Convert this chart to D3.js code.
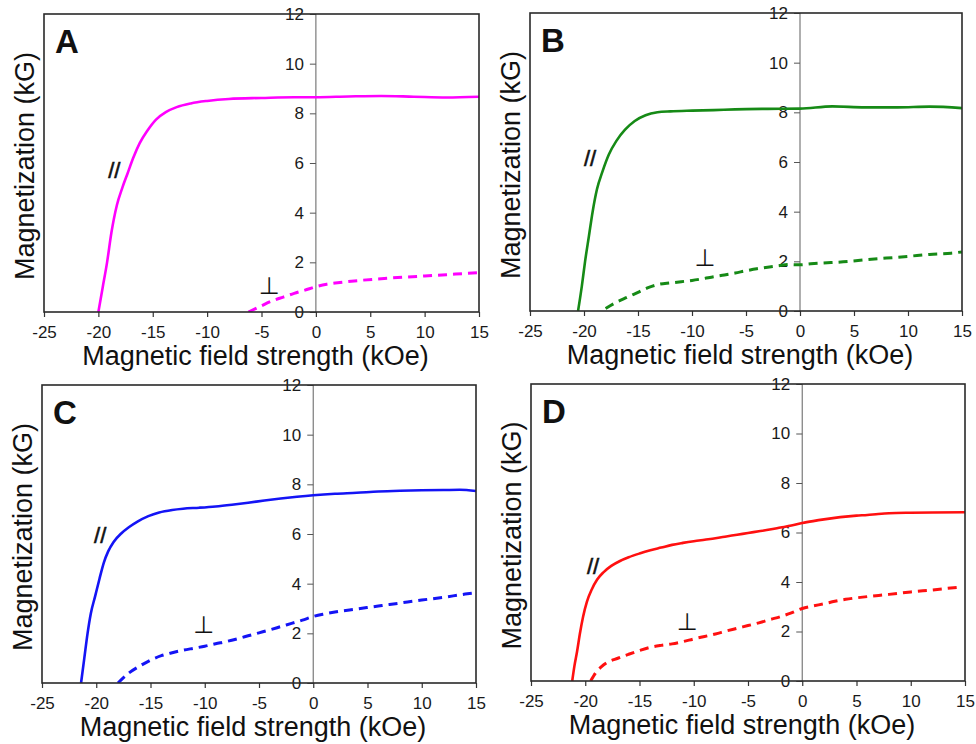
<!DOCTYPE html>
<html><head><meta charset="utf-8">
<script src="https://cdn.jsdelivr.net/npm/d3@7"></script>
<style>body{margin:0;background:#fff}svg{display:block}</style>
</head><body>
<svg id="chart" width="976" height="744"></svg>
<script>
// ---------- data ----------
const xTicks = [-25, -20, -15, -10, -5, 0, 5, 10, 15];
const yTicks = [0, 2, 4, 6, 8, 10, 12];
const panelLetters = ["A", "B", "C", "D"];
const xTitle = "Magnetic field strength (kOe)";
const yTitle = "Magnetization (kG)";
const parallelSymbol = "//";
const perpSymbol = "\u22A5";

// Panel A (magenta)
const parallelA = [[-20.0,0],[-19.6,1.0],[-19.2,2.0],[-18.8,3.2],[-18.3,4.3],[-17.8,5.0],[-17.3,5.6],[-16.8,6.2],[-16.2,6.8],[-15.5,7.3],[-14.7,7.75],[-13.8,8.05],[-12.8,8.25],[-11.5,8.4],[-10,8.5],[-8,8.58],[-5,8.62],[-2,8.65],[0,8.65],[3,8.68],[6,8.7],[9,8.67],[12,8.64],[15,8.67]];
const perpA = [[-6.2,0],[-5,0.25],[-4,0.45],[-3,0.6],[-2,0.75],[-1,0.88],[0,1.02],[1,1.12],[2,1.18],[4,1.27],[6,1.34],[8,1.4],[10,1.45],[12,1.5],[14,1.56],[15,1.58]];
// Panel B (green)
const parallelB = [[-20.55,0],[-20.2,1.0],[-19.9,2.0],[-19.55,3.0],[-19.2,4.0],[-18.8,4.9],[-18.3,5.6],[-17.7,6.3],[-17,6.85],[-16.2,7.3],[-15.3,7.65],[-14.3,7.88],[-13.2,8.0],[-12,8.04],[-10,8.07],[-8,8.09],[-6,8.12],[-3,8.14],[0,8.15],[3,8.24],[6,8.2],[9,8.2],[12,8.23],[15,8.17]];
const perpB = [[-18,0.1],[-17,0.35],[-16,0.55],[-15,0.75],[-14,0.95],[-13,1.08],[-12,1.13],[-11,1.18],[-10,1.23],[-9,1.3],[-8,1.38],[-7,1.45],[-6,1.53],[-5,1.62],[-4,1.7],[-3,1.76],[-2,1.82],[-1,1.87],[0,1.86],[1,1.9],[2,1.93],[4,1.98],[6,2.06],[8,2.13],[10,2.2],[12,2.28],[14,2.33],[15,2.38]];
// Panel C (blue)
const parallelC = [[-21.4,0],[-21.1,1.0],[-20.8,2.0],[-20.5,2.8],[-20.1,3.5],[-19.7,4.2],[-19.3,4.85],[-18.9,5.3],[-18.4,5.68],[-17.7,6.02],[-17,6.27],[-16.2,6.5],[-15.2,6.72],[-14.2,6.87],[-13,6.97],[-12,7.02],[-10.5,7.06],[-9,7.11],[-7.5,7.18],[-6,7.26],[-4.5,7.35],[-3,7.43],[-1.5,7.5],[0,7.56],[2,7.62],[4,7.66],[6,7.71],[8,7.74],[10,7.76],[12,7.77],[13.5,7.78],[15,7.73]];
const perpC = [[-18,0],[-17,0.4],[-16,0.68],[-15,0.92],[-14,1.1],[-13,1.22],[-12,1.32],[-11,1.4],[-10,1.48],[-9,1.58],[-8,1.67],[-7,1.78],[-6,1.9],[-5,2.02],[-4,2.14],[-3,2.27],[-2,2.4],[-1,2.53],[0,2.68],[1,2.78],[2,2.86],[4,2.98],[6,3.1],[8,3.22],[10,3.34],[12,3.45],[14,3.58],[15,3.63]];
// Panel D (red)
const parallelD = [[-21.2,0],[-21.0,0.6],[-20.75,1.2],[-20.5,1.9],[-20.2,2.6],[-19.85,3.2],[-19.4,3.7],[-18.9,4.1],[-18.3,4.4],[-17.6,4.65],[-16.8,4.85],[-16,5.0],[-15,5.15],[-14,5.28],[-13,5.39],[-12,5.5],[-11,5.58],[-10,5.65],[-9,5.71],[-8,5.77],[-7,5.84],[-6,5.91],[-5,5.98],[-4,6.05],[-3,6.12],[-2,6.2],[-1,6.28],[0,6.38],[1,6.46],[2,6.53],[3,6.59],[4,6.64],[5,6.68],[6,6.71],[7,6.75],[8,6.78],[10,6.8],[12,6.81],[15,6.82]];
const perpD = [[-19.5,0],[-19,0.35],[-18.5,0.58],[-18,0.74],[-17,0.92],[-16,1.08],[-15,1.23],[-14,1.36],[-13,1.44],[-12,1.5],[-11,1.59],[-10,1.7],[-9,1.8],[-8,1.9],[-7,2.02],[-6,2.13],[-5,2.24],[-4,2.35],[-3,2.48],[-2,2.6],[-1,2.75],[0,2.93],[1,3.03],[2,3.12],[3,3.22],[4,3.3],[5,3.36],[6,3.41],[8,3.5],[10,3.6],[12,3.68],[14.6,3.8]];

// annotation anchors in data units: [x, y]
const parallelLabelAt = [[-19.1,5.4],[-20.0,5.84],[-20.2,5.62],[-19.85,4.32]];
const perpLabelAt = [[-4.3,0.72],[-8.8,1.8],[-10.1,2.02],[-10.6,2.07]];

// ---------- layout & style ----------
const parallels = [parallelA, parallelB, parallelC, parallelD];
const perps = [perpA, perpB, perpC, perpD];
const colors = ["#ff00ff", "#168a16", "#1414f5", "#ff1010"];
const boxes = [
  {x: 44, y: 14, w: 435, h: 298},
  {x: 530, y: 13, w: 432, h: 298},
  {x: 42, y: 385, w: 434, h: 298},
  {x: 531, y: 384, w: 434, h: 297}
];
const FONT = "'Liberation Sans', Arial, sans-serif";

const svg = d3.select("#chart");

boxes.forEach((b, i) => {
  const g = svg.append("g").attr("transform", `translate(${b.x},${b.y})`);
  const x = d3.scaleLinear().domain([-25, 15]).range([0, b.w]);
  const y = d3.scaleLinear().domain([0, 12]).range([b.h, 0]);

  const clipId = "clip" + i;
  g.append("clipPath").attr("id", clipId).append("rect")
    .attr("x", 0).attr("y", 0).attr("width", b.w).attr("height", b.h);

  // zero line (y axis through x=0)
  g.append("line")
    .attr("x1", x(0)).attr("x2", x(0)).attr("y1", 0).attr("y2", b.h)
    .attr("stroke", "#7a7a7a").attr("stroke-width", 1.2);

  // y axis ticks + labels
  const yAxis = d3.axisLeft(y).tickValues(yTicks).tickSize(6).tickPadding(6).tickFormat(d => String(d));
  const ya = g.append("g").attr("transform", `translate(${x(0)},0)`).call(yAxis);
  ya.select(".domain").remove();
  ya.selectAll("line").attr("stroke", "#555").attr("stroke-width", 1);
  ya.selectAll("text").attr("font-family", FONT).attr("font-size", 17).attr("fill", "#1a1a1a");

  // x axis
  const xAxis = d3.axisBottom(x).tickValues(xTicks).tickSize(5).tickPadding(9).tickFormat(d => String(d));
  const xa = g.append("g").attr("transform", `translate(0,${b.h})`).call(xAxis);
  xa.select(".domain").remove();
  xa.selectAll("line").attr("stroke", "#333").attr("stroke-width", 1.2);
  xa.selectAll("text").attr("font-family", FONT).attr("font-size", 17).attr("fill", "#1a1a1a");

  // lines
  const line = d3.line().x(d => x(d[0])).y(d => y(d[1])).curve(d3.curveMonotoneX);
  const lg = g.append("g").attr("clip-path", `url(#${clipId})`);
  lg.append("path").datum(parallels[i]).attr("d", line)
    .attr("fill", "none").attr("stroke", colors[i]).attr("stroke-width", 2.6)
    .attr("stroke-linejoin", "round");
  lg.append("path").datum(perps[i]).attr("d", line)
    .attr("fill", "none").attr("stroke", colors[i]).attr("stroke-width", 3)
    .attr("stroke-dasharray", "9,6");

  // frame
  g.append("rect").attr("x", 0).attr("y", 0).attr("width", b.w).attr("height", b.h)
    .attr("fill", "none").attr("stroke", "#2a2a2a").attr("stroke-width", 1.6);

  // panel letter
  g.append("text").attr("x", 11).attr("y", 39)
    .attr("font-family", FONT).attr("font-weight", "bold").attr("font-size", 33)
    .attr("fill", "#111").text(panelLetters[i]);

  // annotations
  g.append("text").attr("x", x(parallelLabelAt[i][0])).attr("y", y(parallelLabelAt[i][1]))
    .attr("font-family", FONT).attr("font-size", 22)
    .attr("stroke", "#111").attr("stroke-width", 0.6).attr("fill", "#111")
    .text(parallelSymbol);
  g.append("text").attr("x", x(perpLabelAt[i][0])).attr("y", y(perpLabelAt[i][1]))
    .attr("text-anchor", "middle")
    .attr("font-family", "'DejaVu Sans', sans-serif").attr("font-size", 24).attr("fill", "#111")
    .text(perpSymbol);

  // axis titles
  g.append("text").attr("x", b.w / 2 - 6).attr("y", b.h + 53)
    .attr("text-anchor", "middle").attr("font-family", FONT).attr("font-size", 27).attr("fill", "#111")
    .text(xTitle);
  g.append("text")
    .attr("transform", `translate(-10,${b.h / 2 + 3}) rotate(-90)`)
    .attr("text-anchor", "middle").attr("font-family", FONT).attr("font-size", 27).attr("fill", "#111")
    .text(yTitle);
});
</script>
</body></html>
